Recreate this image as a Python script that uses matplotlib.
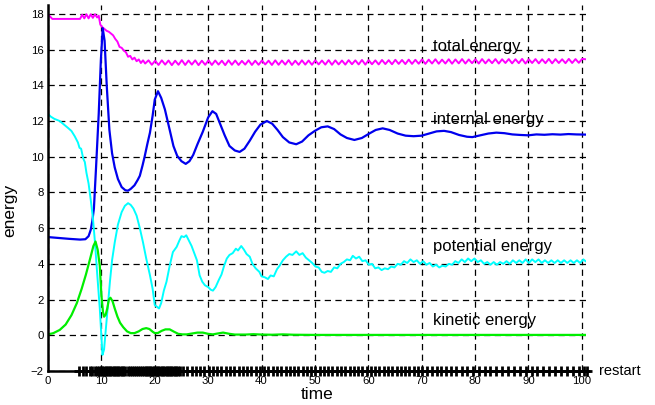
import numpy as np
import matplotlib.pyplot as plt

plt.rcParams['font.family'] = ['Liberation Sans', 'DejaVu Sans']

# total energy: start-up part, then the zig-zag plateau
t_total_start = [0, 0.4, 0.8, 3.0, 6.0, 6.4, 6.8, 7.2, 7.6, 8.0, 8.4, 8.8, 9.2, 9.5, 9.8,
                 10.2, 10.6, 11.0, 11.4, 11.8, 12.2, 12.6, 13.0, 13.4, 13.8, 14.2, 14.6,
                 15.0, 15.4, 15.8, 16.2, 16.6, 17.0, 17.4, 17.8]
total_start = [17.98, 17.85, 17.72, 17.72, 17.72, 17.95, 17.75, 17.98, 17.75, 17.98, 17.78,
               17.98, 17.80, 17.90, 17.40, 17.25, 17.15, 17.05, 17.00, 16.90, 16.80, 16.60,
               16.45, 16.15, 16.10, 15.95, 15.85, 15.60, 15.65, 15.45, 15.55, 15.35, 15.45,
               15.25, 15.40]
total_plateau = [
    15.22, 15.40, 15.15, 15.38, 15.14, 15.40, 15.16, 15.39, 15.13, 15.38,
    15.15, 15.41, 15.14, 15.39, 15.16, 15.40, 15.13, 15.38, 15.15, 15.40,
    15.14, 15.39, 15.16, 15.38, 15.13, 15.40, 15.15, 15.39, 15.14, 15.37,
    15.16, 15.40, 15.14, 15.38, 15.15, 15.39, 15.17, 15.38, 15.14, 15.40,
    15.15, 15.39, 15.16, 15.41, 15.14, 15.38, 15.15, 15.40, 15.16, 15.39,
    15.15, 15.40, 15.17, 15.39, 15.16, 15.41, 15.15, 15.40, 15.17, 15.39,
    15.16, 15.41, 15.18, 15.40, 15.17, 15.42, 15.16, 15.41, 15.18, 15.40,
    15.17, 15.42, 15.19, 15.41, 15.18, 15.43, 15.20, 15.42, 15.19, 15.44,
    15.20, 15.43, 15.21, 15.45, 15.20, 15.44, 15.22, 15.46, 15.21, 15.44,
    15.22, 15.46, 15.21, 15.45, 15.23, 15.47, 15.22, 15.45, 15.24, 15.46,
    15.22, 15.47, 15.23, 15.45, 15.24, 15.47, 15.22, 15.46, 15.25, 15.47,
    15.23, 15.46, 15.24, 15.48, 15.22, 15.46, 15.25, 15.47, 15.23, 15.46,
    15.24, 15.48, 15.23, 15.47, 15.25, 15.46, 15.24, 15.48, 15.25, 15.47,
    15.26, 15.48, 15.46]

# internal energy
t_internal = [0, 2, 4, 6, 7.0, 7.6, 8.0, 8.3, 8.6, 9.0, 9.5, 9.9, 10.25, 10.6, 11.0, 11.5,
              12.0, 12.5, 13.1, 13.8, 14.5, 15.0, 15.5, 16.2, 16.8, 17.2, 17.7, 18.1, 18.6,
              19.1, 19.6, 20.0, 20.6, 21.2, 21.9, 22.8, 23.5, 24.2, 25.0, 25.8, 26.5, 27.2,
              28.0, 29.0, 30.0, 30.8, 31.5, 32.3, 33.1, 34.0, 35.0, 35.9, 36.8, 37.8, 38.8,
              39.8, 41.0, 42.0, 43.0, 44.0, 45.2, 46.5, 47.6, 48.8, 50.0, 51.2, 52.4, 53.6,
              54.8, 56.0, 57.4, 58.8, 60.2, 61.4, 62.7, 64.0, 65.5, 67.0, 68.5, 70.0, 71.4,
              72.8, 74.2, 75.5, 77.0, 78.5, 79.5, 81.0, 82.5, 84.0, 85.5, 87.0, 88.5, 90.0,
              91.5, 93.0, 94.5, 96.0, 97.5, 99.0, 100.7]
internal = [5.50, 5.45, 5.40, 5.36, 5.38, 5.55, 5.90, 6.40, 7.10, 9.40, 12.40, 15.40, 17.20,
            16.50, 14.00, 11.50, 10.20, 9.40, 8.75, 8.30, 8.12, 8.10, 8.20, 8.40, 8.70, 8.93,
            9.50, 10.00, 10.70, 11.35, 12.30, 13.20, 13.67, 13.30, 12.65, 11.50, 10.60, 10.05,
            9.75, 9.60, 9.75, 10.10, 10.70, 11.40, 12.20, 12.55, 12.40, 11.80, 11.20, 10.60,
            10.35, 10.27, 10.45, 10.90, 11.40, 11.80, 12.00, 11.85, 11.50, 11.10, 10.80, 10.70,
            10.85, 11.20, 11.45, 11.65, 11.70, 11.55, 11.25, 11.05, 10.94, 11.05, 11.30, 11.50,
            11.59, 11.50, 11.30, 11.18, 11.15, 11.18, 11.30, 11.42, 11.45, 11.38, 11.22, 11.12,
            11.10, 11.20, 11.30, 11.35, 11.32, 11.25, 11.22, 11.20, 11.25, 11.23, 11.26, 11.24,
            11.27, 11.25, 11.24]

# potential energy
t_potential = [0, 0.5, 1.2, 2.2, 3.0, 3.8, 4.4, 5.0, 5.6, 5.9, 6.2, 6.6, 6.9, 7.2, 7.6, 8.0,
               8.4, 8.8, 9.2, 9.7, 10.0, 10.2, 10.5, 10.8, 11.2, 11.6, 12.0, 12.5, 13.1, 13.8,
               14.4, 15.0, 15.5, 16.0, 16.6, 17.2, 17.8, 18.4, 19.1, 19.6, 20.0, 20.4, 20.8,
               21.2, 21.7, 22.2, 22.8, 23.4, 24.1, 24.6, 25.0, 25.5, 25.9, 26.4, 26.9, 27.4,
               27.9, 28.4, 28.9, 29.4, 30.0, 30.5, 30.9, 31.4, 32.0, 32.5, 33.0, 33.5, 34.0,
               34.6, 35.2, 35.6, 36.2, 36.7, 37.2, 37.8, 38.3, 38.9, 39.6, 40.0, 40.6, 41.2,
               41.7, 42.3, 42.9, 43.4, 44.0, 44.6, 45.2, 45.8, 46.5, 47.1, 47.7, 48.3, 48.9,
               49.5, 50.1, 50.7, 51.3, 51.8, 52.4, 53.0, 53.6, 54.2, 54.8, 55.4, 56.0, 56.6,
               57.1, 57.7, 58.3, 58.9, 59.5, 60.1, 60.7, 61.3, 61.9, 62.5, 63.1, 63.7, 64.3,
               64.9, 65.5, 66.1, 66.7, 67.3, 67.9, 68.5, 69.1, 69.7, 70.3, 70.9, 71.5, 72.1,
               72.7, 73.3, 73.9, 74.5, 75.1, 75.7, 76.3, 76.9, 77.5, 78.1, 78.7, 79.3, 79.9,
               80.5, 81.1, 81.7, 82.3, 82.9, 83.5, 84.1, 84.7, 85.3, 85.9, 86.5, 87.1, 87.7,
               88.3, 88.9, 89.5, 90.1, 90.7, 91.3, 91.9, 92.5, 93.1, 93.7, 94.3, 94.9, 95.5,
               96.1, 96.7, 97.3, 97.9, 98.5, 99.1, 99.7, 100.3, 100.7]
potential = [12.40, 12.25, 12.12, 12.00, 11.80, 11.60, 11.44, 11.15, 10.80, 10.50, 10.45,
             9.90, 9.70, 9.10, 8.50, 7.60, 6.60, 5.20, 3.50, 1.50, 0.00, -1.10, -0.80, 0.20,
             1.60, 3.00, 4.20, 5.20, 6.20, 6.90, 7.25, 7.40, 7.30, 7.10, 6.70, 6.00, 5.20, 4.30,
             3.36, 2.60, 1.69, 1.60, 1.50, 1.80, 2.50, 3.00, 3.90, 4.66, 4.95, 5.30, 5.55, 5.50,
             5.60, 5.30, 5.00, 4.60, 4.20, 3.36, 3.00, 2.80, 2.70, 2.55, 2.50, 2.70, 3.10, 3.40,
             3.90, 4.30, 4.50, 4.60, 4.85, 4.75, 5.00, 4.80, 4.55, 4.40, 4.00, 3.75, 3.55, 3.30,
             3.25, 3.15, 3.35, 3.30, 3.70, 3.90, 4.20, 4.40, 4.55, 4.50, 4.70, 4.50, 4.60, 4.35,
             4.20, 4.05, 3.85, 3.80, 3.55, 3.50, 3.60, 3.55, 3.80, 3.75, 4.00, 4.10, 4.25, 4.20,
             4.45, 4.30, 4.40, 4.15, 4.20, 3.95, 4.00, 3.75, 3.80, 3.65, 3.75, 3.70, 3.85, 3.80,
             4.00, 3.95, 4.15, 4.05, 4.25, 4.10, 4.20, 4.00, 4.15, 3.95, 4.05, 3.85, 3.95, 3.80,
             3.90, 3.85, 4.00, 3.95, 4.15, 4.05, 4.25, 4.10, 4.30, 4.15, 4.30, 4.10, 4.20, 4.00,
             4.10, 3.95, 4.10, 3.95, 4.10, 4.00, 4.15, 4.00, 4.20, 4.05, 4.20, 4.05, 4.25, 4.05,
             4.25, 4.10, 4.25, 4.05, 4.20, 4.05, 4.20, 4.05, 4.20, 4.05, 4.20, 4.05, 4.20, 4.05,
             4.20, 4.05, 4.25, 4.15]

# kinetic energy
t_kinetic = [0, 1, 2.2, 3.3, 4.4, 5.4, 6.3, 7.1, 7.9, 8.5, 8.9, 9.3, 9.7, 10.0, 10.3, 10.5,
             10.8, 11.1, 11.4, 11.7, 12.1, 12.5, 13.0, 13.5, 14.1, 14.8, 15.5, 16.2, 17.0,
             17.7, 18.4, 19.0, 19.6, 20.0, 20.6, 21.3, 22.0, 22.8, 23.6, 24.4, 25.2, 26.0,
             27.0, 28.0, 29.0, 30.0, 30.9, 31.8, 32.8, 34.0, 35.0, 37.0, 38.5, 40.0, 42.0,
             44.0, 46.0, 50.0, 60.0, 70.0, 80.0, 90.0, 100.7]
kinetic = [0.05, 0.12, 0.30, 0.60, 1.13, 1.80, 2.60, 3.40, 4.30, 5.00, 5.25, 4.80, 3.90, 2.25,
           1.30, 1.04, 1.15, 1.50, 2.00, 2.10, 1.90, 1.50, 1.05, 0.70, 0.45, 0.22, 0.12, 0.12,
           0.22, 0.35, 0.40, 0.35, 0.20, 0.12, 0.13, 0.25, 0.33, 0.33, 0.20, 0.08, 0.05, 0.05,
           0.10, 0.15, 0.15, 0.08, 0.05, 0.10, 0.15, 0.08, 0.04, 0.04, 0.06, 0.04, 0.03, 0.05,
           0.03, 0.02, 0.02, 0.02, 0.02, 0.02, 0.02]

# times at which the run was restarted
restart_times = [5.8, 6.5, 7.2, 7.8, 8.3, 8.8, 9.2, 9.6, 9.9, 10.2, 10.5, 10.8, 11.1, 11.4,
                 11.7, 12.0, 12.3, 12.6, 12.9, 13.2, 13.5, 13.8, 14.1, 14.5, 14.9, 15.3, 15.7,
                 16.1, 16.5, 16.9, 17.3, 17.7, 18.0, 18.3, 18.6, 18.9, 19.2, 19.5, 19.8, 20.1,
                 20.4, 20.7, 21.0, 21.3, 21.6, 21.9, 22.2, 22.5, 22.8, 23.1, 23.4, 23.7, 24.0,
                 24.4, 24.8, 25.3, 26.1, 26.9, 27.7, 28.5, 29.3, 30.1, 30.9, 31.7, 32.5, 33.3,
                 34.1, 34.9, 35.7, 36.5, 37.3, 38.1, 38.9, 39.7, 40.5, 41.3, 42.1, 42.9, 43.7,
                 44.5, 45.3, 46.1, 46.9, 47.7, 48.5, 49.3, 50.1, 50.9, 51.7, 52.5, 53.3, 54.1,
                 54.9, 55.7, 56.5, 57.3, 58.1, 58.9, 59.7, 60.5, 61.3, 62.1, 62.9, 63.7, 64.5,
                 65.3, 66.1, 66.9, 67.7, 68.5, 69.3, 70.1, 71.0, 71.9, 72.8, 73.7, 74.6, 75.5,
                 76.5, 77.5, 78.5, 79.6, 80.7, 81.8, 82.9, 84.0, 85.1, 86.2, 87.3, 88.4, 89.5,
                 90.6, 91.7, 92.8, 93.9, 95.0, 96.1, 97.2, 98.3, 99.4, 100.4, 101.0]

labels = ['total energy', 'internal energy', 'potential energy', 'kinetic energy']
label_y = [16.15, 12.1, 4.95, 0.85]

t_total = t_total_start + list(np.linspace(18.2, 100.7, len(total_plateau)))
total = total_start + total_plateau

fig = plt.figure(figsize=(6.55, 4.05), dpi=100)
ax = fig.add_axes([0.0733, 0.084, 0.8214, 0.9037])

ax.plot(t_total, total, color='#ff00ff', lw=1.4)
ax.plot(t_internal, internal, color='#0000ee', lw=1.6)
ax.plot(t_potential, potential, color='#00ffff', lw=1.4)
ax.plot(t_kinetic, kinetic, color='#00ee00', lw=1.6)

# restart line along the bottom
ax.plot([0, 101.3], [-2, -2], color='k', lw=1.8, clip_on=False, zorder=5)
ax.plot(restart_times, [-2] * len(restart_times), ls='none', marker='+', color='k',
        ms=6.5, mew=2.0, clip_on=False, zorder=5)
ax.text(103.3, -2, 'restart', fontsize=10.5, va='center', ha='left', clip_on=False)

for lab, y in zip(labels, label_y):
    ax.text(72.2, y, lab, fontsize=12, va='center', ha='left')

ax.set_xlim(0, 100.8)
ax.set_ylim(-2, 18.5)
ax.set_xticks(np.arange(0, 101, 10))
ax.set_yticks(np.arange(-2, 19, 2))
ax.grid(True, color='k', lw=0.9, linestyle=(0, (5, 3.5)))
ax.set_axisbelow(True)

for side in ['top', 'right', 'bottom']:
    ax.spines[side].set_visible(False)
ax.spines['left'].set_linewidth(1.8)
ax.tick_params(length=0, labelsize=8.2)
ax.tick_params(axis='x', pad=3.5)
ax.tick_params(axis='y', pad=3)

ax.set_xlabel('time', fontsize=12.5)
ax.set_ylabel('energy', fontsize=12.5)
ax.xaxis.set_label_coords(0.5, -0.044)
ax.yaxis.set_label_coords(-0.058, 0.44)

fig.savefig('out.png', dpi=100)
